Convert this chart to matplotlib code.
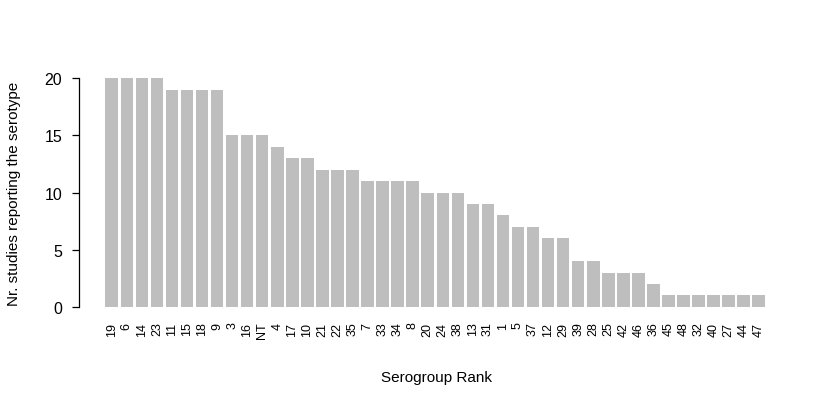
import matplotlib
matplotlib.use("Agg")
import matplotlib.pyplot as plt
import numpy as np

plt.rcParams['font.family'] = ['Liberation Sans', 'DejaVu Sans']

categories = ["19", "6", "14", "23", "11", "15", "18", "9", "3", "16", "NT", "4", "17", "10",
              "21", "22", "35", "7", "33", "34", "8", "20", "24", "38", "13", "31", "1", "5",
              "37", "12", "29", "39", "28", "25", "42", "46", "36", "45", "48", "32", "40",
              "27", "44", "47"]
counts = [20, 20, 20, 20, 19, 19, 19, 19, 15, 15, 15, 14, 13, 13, 12, 12, 12, 11, 11, 11, 11,
          10, 10, 10, 9, 9, 8, 7, 7, 6, 6, 4, 4, 3, 3, 3, 2, 1, 1, 1, 1, 1, 1, 1]
yticks = [0, 5, 10, 15, 20]

fig = plt.figure(figsize=(8.36, 4.06), dpi=100)
ax = fig.add_axes([79/836, 1-317/406, (794-79)/836, (317-70)/406])

n = len(categories)
pos = 0.2 + 1.2*np.arange(n) + 0.5
ax.bar(pos, counts, width=1.0, color='#BEBEBE', edgecolor='none')
lo, hi = 0.2, 0.2 + 1.2*n
pad = 0.04*(hi-lo)
ax.set_xlim(lo-pad, hi+pad)
ax.set_ylim(-0.8, 20.8)

for s in ['top', 'right', 'bottom']:
    ax.spines[s].set_visible(False)
ax.spines['left'].set_bounds(0, 20)
ax.spines['left'].set_linewidth(0.9)
ax.set_yticks(yticks)
ax.set_yticklabels([str(v) for v in yticks], fontsize=11.5)
ax.tick_params(axis='y', length=5, width=0.9, pad=7)
ax.set_xticks(pos)
ax.set_xticklabels(categories, rotation=90, fontsize=9)
ax.tick_params(axis='x', length=0, pad=4)

fig.text(14/836, 1-(79+308)/2/406, "Nr. studies reporting the serotype", rotation=90,
         ha='center', va='center', fontsize=11)
fig.text((79+794)/2/836, 1-378/406, "Serogroup Rank", ha='center', va='center', fontsize=11)

fig.savefig("out.png", dpi=100)
